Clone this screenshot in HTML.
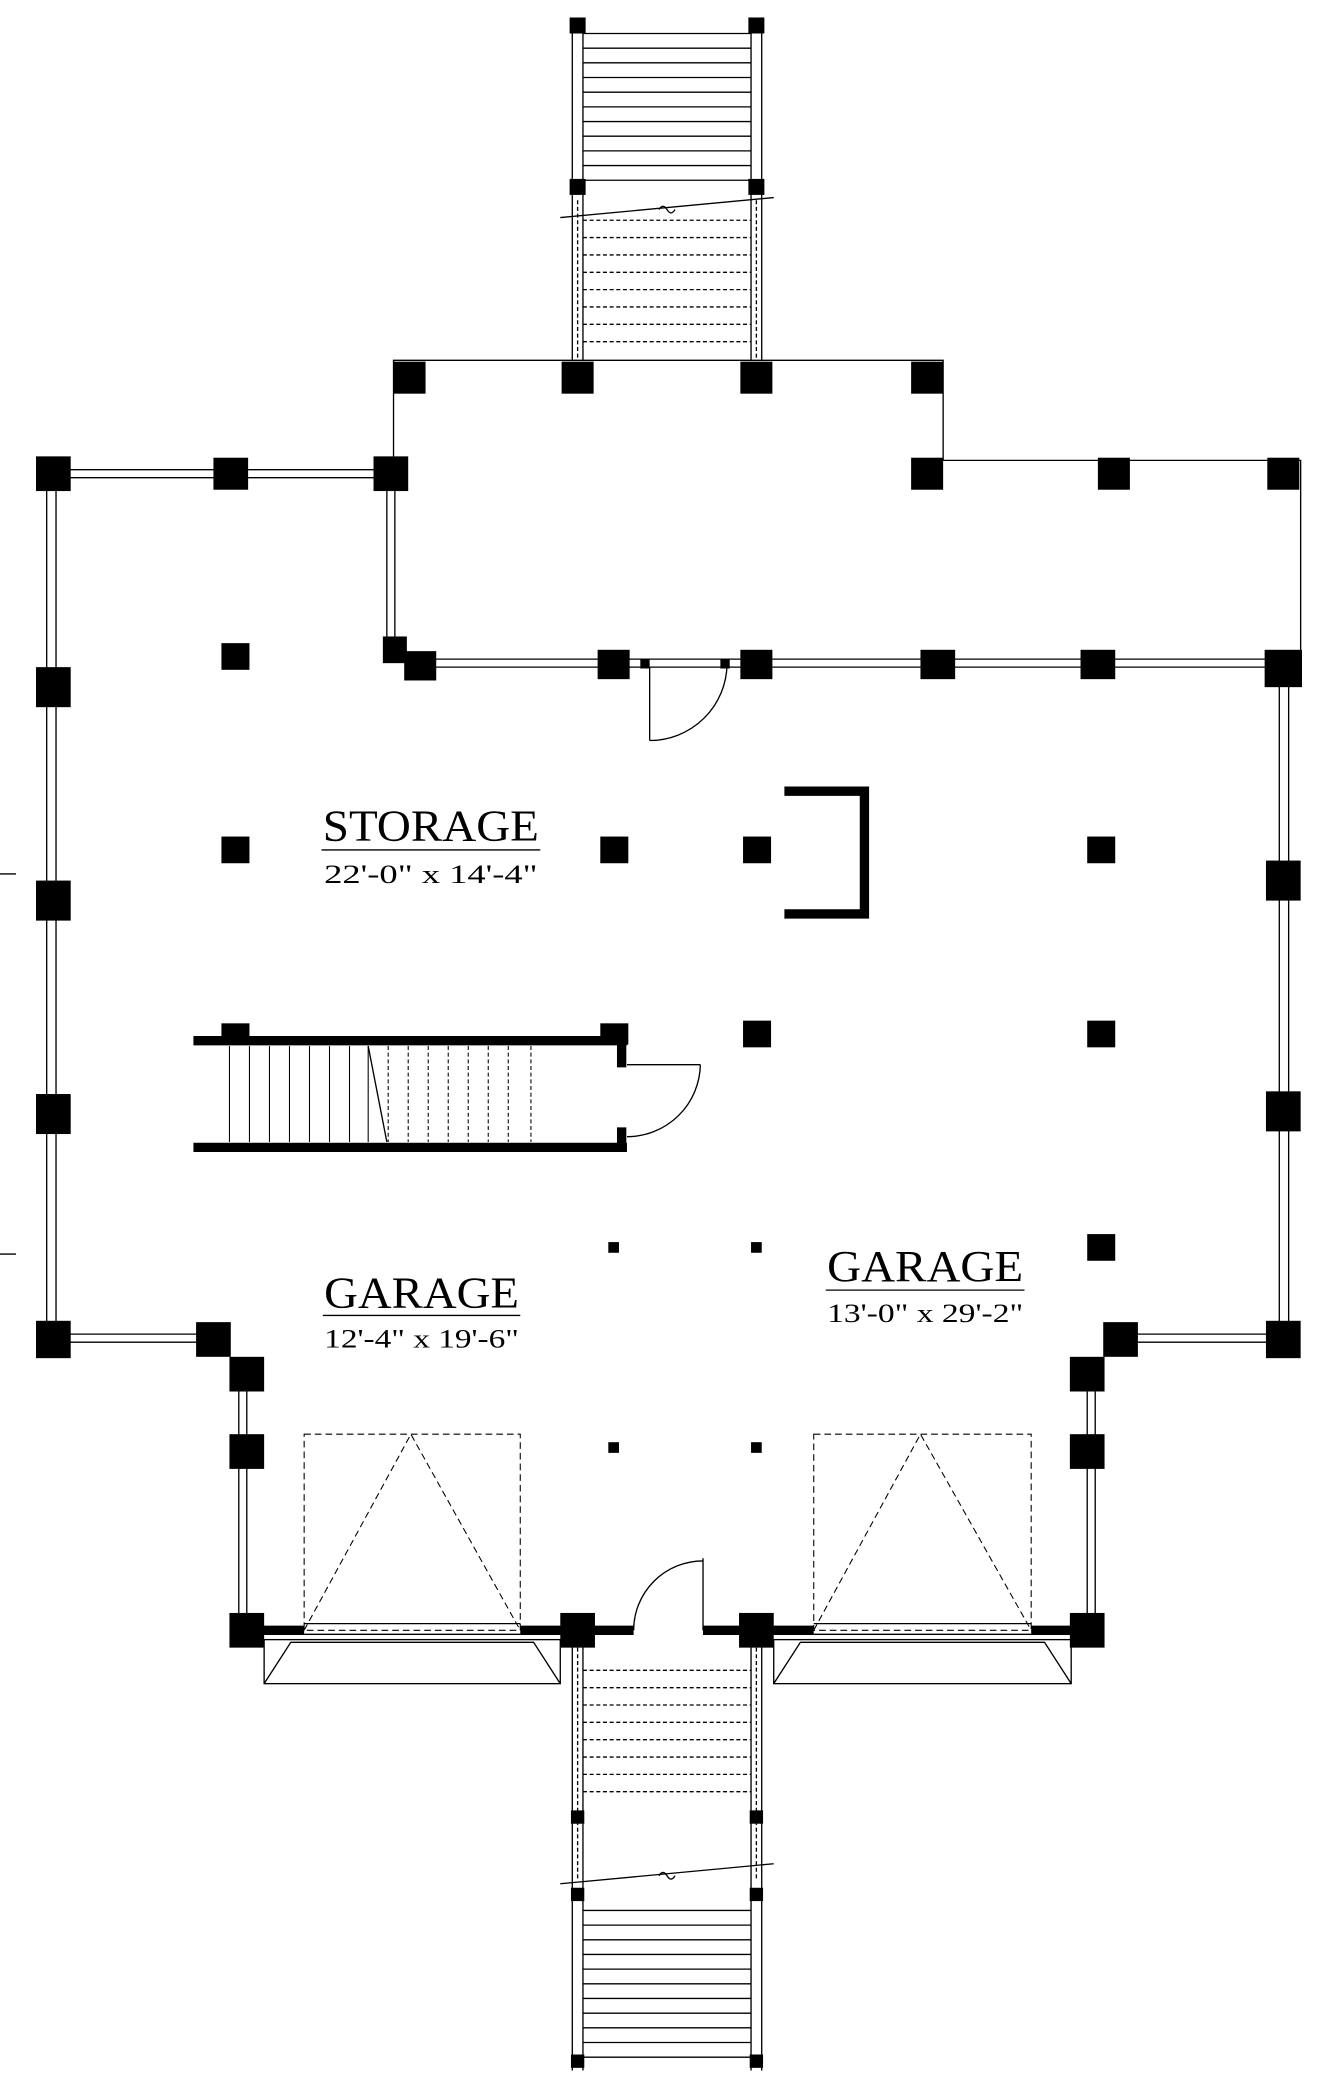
<!DOCTYPE html>
<html><head><meta charset="utf-8"><style>
html,body{margin:0;padding:0;background:#fff;}
svg{display:block;}
text{font-family:"Liberation Serif",serif;fill:#000;}
</style></head><body>
<svg width="1334" height="2092" viewBox="0 0 1000 1568" xmlns="http://www.w3.org/2000/svg">
<rect width="1000" height="1568" fill="#fff"/>
<g stroke="#000" fill="none" stroke-width="1">
<line x1="429" y1="14" x2="429" y2="270"/><line x1="437" y1="14" x2="437" y2="270"/>
<line x1="563" y1="14" x2="563" y2="270"/><line x1="571" y1="14" x2="571" y2="270"/>
<line x1="437" y1="25" x2="563" y2="25"/><line x1="437" y1="36" x2="563" y2="36"/><line x1="437" y1="47" x2="563" y2="47"/><line x1="437" y1="58" x2="563" y2="58"/><line x1="437" y1="69" x2="563" y2="69"/><line x1="437" y1="80" x2="563" y2="80"/><line x1="437" y1="91" x2="563" y2="91"/><line x1="437" y1="102" x2="563" y2="102"/><line x1="437" y1="113" x2="563" y2="113"/><line x1="437" y1="124" x2="563" y2="124"/><line x1="437" y1="135" x2="563" y2="135"/>
<g stroke-dasharray="3,2">
<line x1="437" y1="165" x2="563" y2="165"/><line x1="437" y1="178" x2="563" y2="178"/><line x1="437" y1="191" x2="563" y2="191"/><line x1="437" y1="204" x2="563" y2="204"/><line x1="437" y1="217" x2="563" y2="217"/><line x1="437" y1="230" x2="563" y2="230"/><line x1="437" y1="243" x2="563" y2="243"/><line x1="437" y1="256" x2="563" y2="256"/>
<line x1="433" y1="150" x2="433" y2="270"/><line x1="567" y1="150" x2="567" y2="270"/>
</g>
<line x1="420" y1="163" x2="580" y2="148"/>
<path d="M494 157 q3 -5 6 0 q3 5 6 0"/>
<line x1="429" y1="1230" x2="429" y2="1552"/><line x1="437" y1="1230" x2="437" y2="1552"/>
<line x1="563" y1="1230" x2="563" y2="1552"/><line x1="571" y1="1230" x2="571" y2="1552"/>
<g stroke-dasharray="3,2">
<line x1="437" y1="1252" x2="563" y2="1252"/><line x1="437" y1="1265" x2="563" y2="1265"/><line x1="437" y1="1278" x2="563" y2="1278"/><line x1="437" y1="1291" x2="563" y2="1291"/><line x1="437" y1="1304" x2="563" y2="1304"/><line x1="437" y1="1317" x2="563" y2="1317"/><line x1="437" y1="1330" x2="563" y2="1330"/><line x1="437" y1="1343" x2="563" y2="1343"/>
<line x1="433" y1="1235" x2="433" y2="1410"/><line x1="567" y1="1235" x2="567" y2="1410"/>
</g>
<line x1="437" y1="1432" x2="563" y2="1432"/><line x1="437" y1="1443" x2="563" y2="1443"/><line x1="437" y1="1454" x2="563" y2="1454"/><line x1="437" y1="1465" x2="563" y2="1465"/><line x1="437" y1="1476" x2="563" y2="1476"/><line x1="437" y1="1487" x2="563" y2="1487"/><line x1="437" y1="1498" x2="563" y2="1498"/><line x1="437" y1="1509" x2="563" y2="1509"/><line x1="437" y1="1520" x2="563" y2="1520"/><line x1="437" y1="1531" x2="563" y2="1531"/><line x1="437" y1="1542" x2="563" y2="1542"/>
<line x1="420" y1="1412" x2="580" y2="1397"/>
<path d="M494 1406 q3 -5 6 0 q3 5 6 0"/>
<polyline points="295,350 295,270 707,270 707,345 975,345 975,495"/>
<line x1="40" y1="352" x2="293" y2="352"/><line x1="40" y1="358" x2="293" y2="358"/>
<line x1="35" y1="355" x2="35" y2="1003"/><line x1="42" y1="355" x2="42" y2="1003"/>
<line x1="290" y1="355" x2="290" y2="487"/><line x1="296" y1="355" x2="296" y2="487"/>
<line x1="315" y1="494" x2="962" y2="494"/><line x1="315" y1="500" x2="962" y2="500"/>
<line x1="959" y1="500" x2="959" y2="1003"/><line x1="966" y1="500" x2="966" y2="1003"/>
<line x1="40" y1="1000" x2="160" y2="1000"/><line x1="40" y1="1006" x2="160" y2="1006"/>
<line x1="840" y1="1000" x2="962" y2="1000"/><line x1="840" y1="1006" x2="962" y2="1006"/>
<line x1="179" y1="1030" x2="179" y2="1222"/><line x1="185" y1="1030" x2="185" y2="1222"/>
<line x1="815" y1="1030" x2="815" y2="1222"/><line x1="821" y1="1030" x2="821" y2="1222"/>
<line x1="0" y1="655" x2="12" y2="655"/><line x1="0" y1="940" x2="12" y2="940"/>
<line x1="487" y1="500" x2="487" y2="555"/>
<path d="M487 555 A58 58 0 0 0 545 498"/>
<line x1="276" y1="784" x2="290" y2="856"/>
<line x1="470" y1="798" x2="525" y2="798"/>
<path d="M525 798 A55 55 0 0 1 470 852"/>
<line x1="527" y1="1168" x2="527" y2="1222"/>
<path d="M475 1222 A52 52 0 0 1 527 1170"/>
<line x1="228" y1="1217" x2="390" y2="1217"/><line x1="228" y1="1225" x2="390" y2="1225"/>
<line x1="610" y1="1217" x2="773" y2="1217"/><line x1="610" y1="1225" x2="773" y2="1225"/>
<g stroke-dasharray="5,3" stroke-width="0.8">
<rect x="228" y="1075" width="162" height="147"/><polyline points="228,1222 308,1075 390,1222"/>
<rect x="610" y="1075" width="163" height="147"/><polyline points="610,1222 690,1075 773,1222"/>
</g>
<rect x="198" y="1229" width="222" height="33"/><polyline points="198,1262 218,1231 400,1231 420,1262"/>
<rect x="580" y="1229" width="223" height="33"/><polyline points="580,1262 600,1231 783,1231 803,1262"/>
</g>
<g stroke="#000" stroke-width="0.8">
<line x1="172" y1="784" x2="172" y2="856"/><line x1="187" y1="784" x2="187" y2="856"/><line x1="202" y1="784" x2="202" y2="856"/><line x1="217" y1="784" x2="217" y2="856"/><line x1="232" y1="784" x2="232" y2="856"/><line x1="247" y1="784" x2="247" y2="856"/><line x1="262" y1="784" x2="262" y2="856"/><line x1="276" y1="784" x2="276" y2="856"/>
<g stroke-dasharray="3,2"><line x1="291" y1="784" x2="291" y2="856"/><line x1="306" y1="784" x2="306" y2="856"/><line x1="321" y1="784" x2="321" y2="856"/><line x1="336" y1="784" x2="336" y2="856"/><line x1="351" y1="784" x2="351" y2="856"/><line x1="366" y1="784" x2="366" y2="856"/><line x1="381" y1="784" x2="381" y2="856"/><line x1="398" y1="784" x2="398" y2="856"/></g>
</g>
<g stroke="#000" stroke-width="7" fill="none">
<polyline points="588,593 648,593 648,685 588,685"/>
<line x1="145" y1="780" x2="470" y2="780"/><line x1="145" y1="860" x2="470" y2="860"/>
<line x1="466" y1="770" x2="466" y2="800"/><line x1="466" y1="845" x2="466" y2="862"/>
<line x1="185" y1="1222" x2="228" y2="1222"/><line x1="390" y1="1222" x2="475" y2="1222"/>
<line x1="527" y1="1222" x2="610" y2="1222"/><line x1="773" y1="1222" x2="815" y2="1222"/>
</g>
<g fill="#000">
<rect x="427" y="13" width="12" height="12"/><rect x="561" y="13" width="12" height="12"/><rect x="427" y="134" width="12" height="12"/><rect x="561" y="134" width="12" height="12"/>
<rect x="428" y="1357" width="10" height="10"/><rect x="562" y="1357" width="10" height="10"/><rect x="428" y="1415" width="10" height="10"/><rect x="562" y="1415" width="10" height="10"/><rect x="428" y="1540" width="10" height="10"/><rect x="562" y="1540" width="10" height="10"/>
<rect x="295" y="271" width="24" height="24"/><rect x="421" y="271" width="24" height="24"/><rect x="555" y="271" width="24" height="24"/><rect x="683" y="271" width="24" height="24"/>
<rect x="683" y="343" width="24" height="24"/><rect x="823" y="343" width="24" height="24"/><rect x="950" y="343" width="24" height="24"/>
<rect x="27" y="342" width="26" height="26"/><rect x="160" y="343" width="26" height="24"/><rect x="280" y="342" width="26" height="26"/>
<rect x="27" y="500" width="26" height="30"/><rect x="27" y="660" width="26" height="30"/><rect x="27" y="820" width="26" height="30"/><rect x="27" y="990" width="26" height="28"/>
<rect x="287" y="477" width="18" height="20"/><rect x="303" y="488" width="24" height="22"/>
<rect x="448" y="487" width="24" height="22"/><rect x="555" y="487" width="24" height="22"/><rect x="690" y="487" width="26" height="22"/><rect x="810" y="487" width="26" height="22"/><rect x="948" y="487" width="28" height="28"/>
<rect x="480" y="494" width="7" height="7"/><rect x="540" y="494" width="7" height="7"/>
<rect x="949" y="645" width="26" height="30"/><rect x="949" y="818" width="26" height="30"/><rect x="949" y="990" width="26" height="28"/>
<rect x="166" y="482" width="21" height="20"/><rect x="166" y="627" width="21" height="20"/><rect x="450" y="627" width="21" height="20"/><rect x="557" y="627" width="21" height="20"/><rect x="815" y="627" width="21" height="20"/>
<rect x="557" y="765" width="21" height="20"/><rect x="815" y="765" width="21" height="20"/><rect x="815" y="925" width="21" height="20"/>
<rect x="166" y="767" width="21" height="16"/><rect x="450" y="767" width="21" height="16"/>
<rect x="456" y="931" width="8" height="8"/><rect x="563" y="931" width="8" height="8"/><rect x="456" y="1081" width="8" height="8"/><rect x="563" y="1081" width="8" height="8"/>
<rect x="147" y="991" width="26" height="26"/><rect x="172" y="1017" width="26" height="26"/><rect x="172" y="1075" width="26" height="26"/><rect x="172" y="1209" width="26" height="26"/>
<rect x="827" y="991" width="26" height="26"/><rect x="802" y="1017" width="26" height="26"/><rect x="802" y="1075" width="26" height="26"/><rect x="802" y="1209" width="26" height="26"/>
<rect x="420" y="1209" width="26" height="26"/><rect x="554" y="1209" width="26" height="26"/>
</g>
<text x="242" y="630" font-size="33" textLength="162" lengthAdjust="spacingAndGlyphs">STORAGE</text>
<line x1="241" y1="637" x2="405" y2="637" stroke="#000"/>
<text x="243" y="662" font-size="20" textLength="160" lengthAdjust="spacingAndGlyphs">22'-0" x 14'-4"</text>
<text x="243" y="980" font-size="33" textLength="146" lengthAdjust="spacingAndGlyphs">GARAGE</text>
<line x1="242" y1="986" x2="390" y2="986" stroke="#000"/>
<text x="243" y="1010" font-size="20" textLength="146" lengthAdjust="spacingAndGlyphs">12'-4" x 19'-6"</text>
<text x="620" y="960" font-size="33" textLength="147" lengthAdjust="spacingAndGlyphs">GARAGE</text>
<line x1="619" y1="967" x2="768" y2="967" stroke="#000"/>
<text x="620" y="991" font-size="20" textLength="147" lengthAdjust="spacingAndGlyphs">13'-0" x 29'-2"</text>
</svg>
</body></html>
